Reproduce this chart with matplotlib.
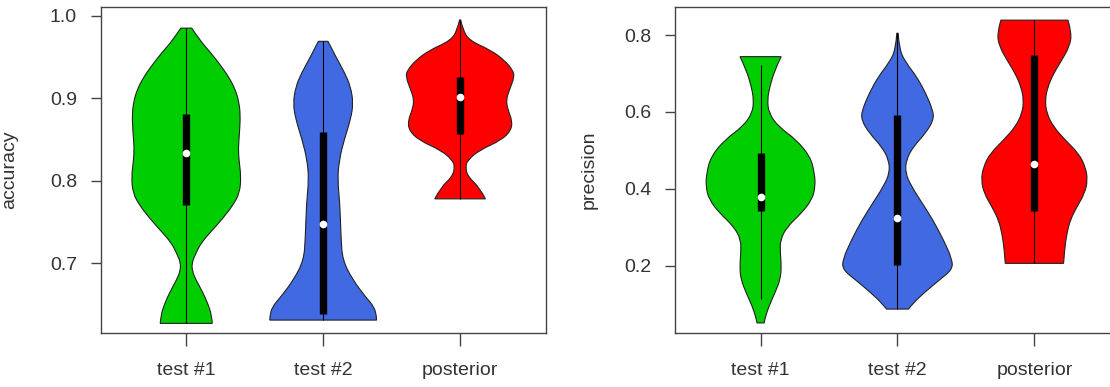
import numpy as np
import matplotlib
matplotlib.use("Agg")
import matplotlib.pyplot as plt
from matplotlib.path import Path
from matplotlib.patches import PathPatch

plt.rcParams['font.family'] = ['Liberation Sans', 'DejaVu Sans']

groups = ['test #1', 'test #2', 'posterior']
colors = ['#00cd00', '#4169e1', '#ff0000']

# accuracy panel: violin outline (value, half width)
acc_t1_y = [0.627, 0.637, 0.65, 0.665, 0.68, 0.69, 0.70, 0.712, 0.725, 0.74, 0.755, 0.77, 0.785,
            0.805, 0.825, 0.84, 0.86, 0.88, 0.895, 0.91, 0.926, 0.94, 0.955, 0.97, 0.985]
acc_t1_w = [0.19, 0.185, 0.16, 0.12, 0.07, 0.045, 0.04, 0.07, 0.11, 0.19, 0.27, 0.34, 0.39,
            0.40, 0.385, 0.38, 0.39, 0.395, 0.385, 0.36, 0.31, 0.25, 0.18, 0.10, 0.04]
acc_t2_y = [0.631, 0.635, 0.647, 0.659, 0.68, 0.704, 0.732, 0.773, 0.801, 0.825, 0.85, 0.874,
            0.894, 0.914, 0.93, 0.951, 0.969]
acc_t2_w = [0.39, 0.39, 0.373, 0.31, 0.215, 0.141, 0.13, 0.122, 0.105, 0.117, 0.154, 0.20,
            0.22, 0.20, 0.16, 0.09, 0.035]
acc_po_y = [0.778, 0.792, 0.805, 0.817, 0.825, 0.837, 0.849, 0.861, 0.873, 0.886, 0.898, 0.910,
            0.926, 0.934, 0.946, 0.958, 0.970, 0.983, 0.995]
acc_po_w = [0.185, 0.141, 0.056, 0.039, 0.056, 0.141, 0.30, 0.373, 0.38, 0.349, 0.336, 0.36,
            0.397, 0.385, 0.324, 0.227, 0.068, 0.02, 0.004]
# q1, median, q3, lower whisker, upper whisker
acc_stats = [[0.770, 0.834, 0.881, 0.627, 0.985],
             [0.638, 0.748, 0.859, 0.631, 0.969],
             [0.857, 0.901, 0.926, 0.778, 0.995]]

# precision panel
pre_t1_y = [0.051, 0.06, 0.094, 0.129, 0.164, 0.198, 0.233, 0.268, 0.302, 0.337, 0.372, 0.406,
            0.441, 0.484, 0.528, 0.562, 0.597, 0.632, 0.666, 0.71, 0.744]
pre_t1_w = [0.026, 0.03, 0.06, 0.105, 0.144, 0.152, 0.144, 0.144, 0.196, 0.30, 0.376, 0.40,
            0.394, 0.363, 0.26, 0.13, 0.06, 0.05, 0.067, 0.105, 0.15]
pre_t2_y = [0.087, 0.103, 0.129, 0.164, 0.19, 0.216, 0.268, 0.32, 0.363, 0.406, 0.441, 0.476,
            0.51, 0.545, 0.58, 0.606, 0.649, 0.692, 0.727, 0.762, 0.805]
pre_t2_w = [0.08, 0.116, 0.193, 0.31, 0.40, 0.40, 0.335, 0.257, 0.18, 0.103, 0.057, 0.064,
            0.116, 0.206, 0.265, 0.257, 0.206, 0.14, 0.064, 0.013, 0.005]
pre_po_y = [0.206, 0.241, 0.284, 0.319, 0.353, 0.388, 0.423, 0.458, 0.492, 0.527, 0.561, 0.596,
            0.631, 0.666, 0.70, 0.735, 0.769, 0.804, 0.839]
pre_po_w = [0.213, 0.22, 0.237, 0.262, 0.31, 0.367, 0.389, 0.372, 0.323, 0.225, 0.14, 0.09,
            0.078, 0.098, 0.14, 0.20, 0.254, 0.274, 0.245]
pre_stats = [[0.341, 0.380, 0.493, 0.114, 0.723],
             [0.201, 0.323, 0.593, 0.087, 0.805],
             [0.341, 0.464, 0.748, 0.206, 0.839]]

acc_ticks = [0.7, 0.8, 0.9, 1.0]
pre_ticks = [0.2, 0.4, 0.6, 0.8]


def side_path(pts):
    # quadratic b-spline through a polyline, endpoints kept
    verts = [pts[0]]
    codes = []
    for i in range(1, len(pts) - 1):
        mid = ((pts[i][0] + pts[i + 1][0]) / 2, (pts[i][1] + pts[i + 1][1]) / 2)
        if i == len(pts) - 2:
            mid = pts[-1]
        verts += [pts[i], mid]
        codes += [Path.CURVE3, Path.CURVE3]
    if len(pts) == 2:
        verts.append(pts[1])
        codes.append(Path.LINETO)
    return verts, codes


def violin(ax, pos, ys, ws, color):
    left = [(pos - w, y) for y, w in zip(ys, ws)]
    right = [(pos + w, y) for y, w in zip(ys[::-1], ws[::-1])]
    lv, lc = side_path(left)
    rv, rc = side_path(right)
    verts = lv + rv + [lv[0]]
    codes = [Path.MOVETO] + lc + [Path.LINETO] + rc + [Path.CLOSEPOLY]
    ax.add_patch(PathPatch(Path(verts, codes), facecolor=color, edgecolor='#222222', lw=0.8))


def panel(ax, profiles, stats, ylim, ticks, ylabel, label_x):
    for i, ((ys, ws), st) in enumerate(zip(profiles, stats)):
        pos = i + 1
        violin(ax, pos, ys, ws, colors[i])
        ax.vlines(pos, st[3], st[4], color='black', lw=0.8)
        ax.vlines(pos, st[0], st[2], color='black', lw=5.3)
        ax.plot(pos, st[1], 'o', color='white', markersize=5.5, markeredgewidth=0)
    ax.set_xlim(0.375, 3.625)
    ax.set_ylim(*ylim)
    ax.set_xticks([1, 2, 3])
    ax.set_xticklabels(groups)
    ax.set_yticks(ticks)
    ax.set_yticklabels(['%.1f' % t for t in ticks])
    ax.tick_params(axis='x', length=9.5, width=1, color='#444444', labelsize=14,
                   labelcolor='#333333', pad=11)
    ax.tick_params(axis='y', length=7.5, width=1, color='#444444', labelsize=14,
                   labelcolor='#333333', pad=9.5)
    for s in ax.spines.values():
        s.set_color('#444444')
        s.set_linewidth(1)
    ax.set_ylabel(ylabel, fontsize=14, color='#333333')
    ax.yaxis.set_label_coords(label_x, 0.5)


fig = plt.figure(figsize=(11.1, 3.87), dpi=100)
ax1 = fig.add_axes([0.0907, 0.1388, 0.4009, 0.8439])
ax2 = fig.add_axes([0.6081, 0.1388, 0.4009, 0.8439])

panel(ax1, [(acc_t1_y, acc_t1_w), (acc_t2_y, acc_t2_w), (acc_po_y, acc_po_w)],
      acc_stats, (0.615, 1.011), acc_ticks, 'accuracy', -0.186)
panel(ax2, [(pre_t1_y, pre_t1_w), (pre_t2_y, pre_t2_w), (pre_po_y, pre_po_w)],
      pre_stats, (0.024, 0.874), pre_ticks, 'precision', -0.173)

fig.savefig('out.png', dpi=100)
